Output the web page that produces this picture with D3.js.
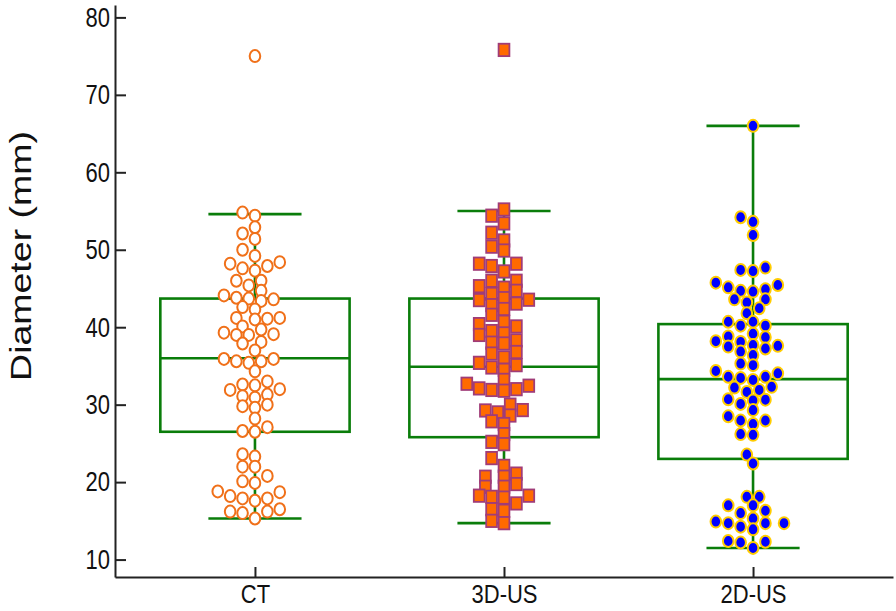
<!DOCTYPE html>
<html>
<head>
<meta charset="utf-8">
<script src="https://cdn.jsdelivr.net/npm/d3@7"></script>
<style>
  html, body { margin: 0; padding: 0; background: #fff; }
  svg { display: block; }
</style>
</head>
<body>
<svg id="chart" width="896" height="611"></svg>
<script>
// ---------------- data ----------------
const categories = ["CT", "3D-US", "2D-US"];
const yTicks = [10, 20, 30, 40, 50, 60, 70, 80];
const yLabel = "Diameter (mm)";

const ctValues = [75.0, 54.8, 54.4, 52.9, 52.1, 51.4, 50.0, 49.2, 48.4, 48.2, 47.9, 47.6, 47.3,
  46.0, 46.0, 45.4, 44.7, 44.1, 43.8, 43.7, 43.6, 43.4, 42.6, 42.3, 41.2, 41.2, 41.1, 41.0,
  40.1, 39.7, 39.0, 39.0, 39.1, 39.3, 38.1, 37.9, 37.0, 35.4, 35.6, 35.6, 35.9, 35.9, 34.3,
  33.0, 31.9, 32.0, 32.5, 32.6, 30.9, 31.1, 31.3, 29.6, 29.8, 30.0, 28.2, 26.5, 26.6, 27.1,
  23.3, 23.6, 22.0, 22.0, 20.8, 19.9, 20.1, 18.7, 18.8, 17.6, 17.9, 17.9, 18.2, 16.0, 16.5,
  16.2, 16.2, 15.3];

const us3dValues = [75.8, 55.2, 54.4, 53.4, 52.2, 51.2, 50.4, 49.9, 48.2, 48.2, 47.9, 47.2,
  46.0, 46.0, 45.1, 45.3, 44.7, 44.3, 42.85, 43.05, 43.5, 43.55, 43.75, 42.35, 41.6, 40.1,
  40.4, 40.7, 39.0, 39.2, 39.5, 37.9, 38.0, 38.3, 36.6, 36.8, 36.1, 34.5, 34.8, 35.1, 35.4,
  33.2, 31.8, 31.9, 32.0, 32.1, 32.45, 32.7, 30.0, 28.6, 29.0, 29.25, 29.3, 27.5, 27.85,
  26.2, 24.9, 25.2, 23.1, 22.1, 20.7, 20.7, 21.1, 19.4, 19.4, 19.75, 17.25, 18.0, 18.1,
  18.25, 18.25, 16.3, 16.5, 14.7, 15.0];

const us2dValues = [66.0, 54.2, 53.6, 51.9, 47.25, 47.4, 47.7, 45.75, 44.6, 44.7, 44.9, 45.15,
  45.45, 43.2, 43.6, 43.6, 42.45, 41.8, 40.2, 40.2, 40.7, 40.7, 38.7, 38.8, 39.15, 37.5, 37.6,
  37.7, 38.1, 38.2, 36.4, 36.85, 37.25, 35.1, 35.3, 34.35, 34.05, 33.2, 33.45, 33.6, 33.6,
  31.65, 31.9, 32.2, 32.3, 30.1, 30.55, 30.65, 30.7, 29.3, 28.5, 27.95, 27.95, 27.5, 26.1,
  26.2, 23.55, 22.4, 18.1, 18.1, 17.0, 17.0, 16.0, 16.3, 14.9, 15.3, 13.9, 14.25, 14.7,
  14.7, 14.7, 11.5, 12.2, 12.4, 12.3];

// box-plot statistics
const boxQ1 = [26.5, 25.8, 23.0];
const boxMedian = [36.0, 34.9, 33.3];
const boxQ3 = [43.7, 43.7, 40.4];
const whiskerLow = [15.3, 14.7, 11.5];
const whiskerHigh = [54.6, 55.0, 66.0];

// ---------------- layout ----------------
const svg = d3.select("#chart");
const plotLeft = 115, plotRight = 893, plotTop = 5, plotBottom = 577;
const yDomain = [7.75, 81.6];
const FONT = "Arial, 'Liberation Sans', Helvetica, sans-serif";

const x = d3.scalePoint().domain(categories).range([plotLeft, plotRight]).padding(0.562);
const y = d3.scaleLinear().domain(yDomain).range([plotBottom, plotTop]);

const boxHalf = x.step() * 0.38;
const capHalf = x.step() * 0.187;
const green = "#0a7d0a";

// ---------------- boxes ----------------
const boxes = svg.append("g").attr("class", "boxes")
  .selectAll("g").data(categories).join("g");

boxes.append("rect")
  .attr("x", d => x(d) - boxHalf)
  .attr("width", boxHalf * 2)
  .attr("y", (d, i) => y(boxQ3[i]))
  .attr("height", (d, i) => y(boxQ1[i]) - y(boxQ3[i]))
  .attr("fill", "none").attr("stroke", green).attr("stroke-width", 2.6);

boxes.append("line")
  .attr("x1", d => x(d) - boxHalf).attr("x2", d => x(d) + boxHalf)
  .attr("y1", (d, i) => y(boxMedian[i])).attr("y2", (d, i) => y(boxMedian[i]))
  .attr("stroke", green).attr("stroke-width", 2.6);

boxes.append("line")
  .attr("x1", d => x(d)).attr("x2", d => x(d))
  .attr("y1", (d, i) => y(boxQ3[i])).attr("y2", (d, i) => y(whiskerHigh[i]))
  .attr("stroke", green).attr("stroke-width", 2.6);
boxes.append("line")
  .attr("x1", d => x(d)).attr("x2", d => x(d))
  .attr("y1", (d, i) => y(boxQ1[i])).attr("y2", (d, i) => y(whiskerLow[i]))
  .attr("stroke", green).attr("stroke-width", 2.6);
boxes.append("line")
  .attr("x1", d => x(d) - capHalf).attr("x2", d => x(d) + capHalf)
  .attr("y1", (d, i) => y(whiskerHigh[i])).attr("y2", (d, i) => y(whiskerHigh[i]))
  .attr("stroke", green).attr("stroke-width", 2.6);
boxes.append("line")
  .attr("x1", d => x(d) - capHalf).attr("x2", d => x(d) + capHalf)
  .attr("y1", (d, i) => y(whiskerLow[i])).attr("y2", (d, i) => y(whiskerLow[i]))
  .attr("stroke", green).attr("stroke-width", 2.6);

// ---------------- swarm layout ----------------
function swarm(values, cx, w, h, step) {
  const order = values.map((v, i) => i).sort((a, b) => values[a] - values[b]);
  const placed = [];
  const out = new Array(values.length);
  for (const i of order) {
    const py = y(values[i]);
    for (let k = 0; k < 60; k++) {
      const off = (k % 2 === 1 ? -1 : 1) * Math.ceil(k / 2) * step;
      const px = cx + off;
      const ok = placed.every(p => ((p.x - px) / w) ** 2 + ((p.y - py) / h) ** 2 >= 1);
      if (ok) { placed.push({ x: px, y: py }); out[i] = { v: values[i], x: px, y: py }; break; }
    }
  }
  return out;
}

const MW = 12.4, MH = 9.5, STEP = 6.2;

// CT: open orange circles
const ctPts = swarm(ctValues, x("CT"), MW, MH, STEP);
svg.append("g").selectAll("ellipse").data(ctPts).join("ellipse")
  .attr("cx", d => d.x).attr("cy", d => d.y)
  .attr("rx", 5.3).attr("ry", 6.0)
  .attr("fill", "#fff").attr("stroke", "#f07019").attr("stroke-width", 2);

// 3D-US: orange squares with purple edge
const us3Pts = swarm(us3dValues, x("3D-US"), MW, MH, STEP);
svg.append("g").selectAll("rect").data(us3Pts).join("rect")
  .attr("x", d => d.x - 5.4).attr("y", d => d.y - 6.2)
  .attr("width", 10.8).attr("height", 12.4)
  .attr("fill", "#ff6a00").attr("stroke", "#a03c78").attr("stroke-width", 1.8);

// 2D-US: blue circles with gold edge
const us2Pts = swarm(us2dValues, x("2D-US"), MW, MH, STEP);
svg.append("g").selectAll("ellipse").data(us2Pts).join("ellipse")
  .attr("cx", d => d.x).attr("cy", d => d.y)
  .attr("rx", 5.3).attr("ry", 6.0)
  .attr("fill", "#0000ff").attr("stroke", "#ffcc00").attr("stroke-width", 2);

// ---------------- axes ----------------
const yAxis = svg.append("g")
  .attr("transform", `translate(${plotLeft},0)`)
  .call(d3.axisLeft(y).tickValues(yTicks).tickSizeInner(-11).tickSizeOuter(0).tickPadding(5));
const xAxis = svg.append("g")
  .attr("transform", `translate(0,${plotBottom})`)
  .call(d3.axisBottom(x).tickSizeInner(-10).tickSizeOuter(0).tickPadding(7));

[yAxis, xAxis].forEach(a => {
  a.select(".domain").attr("stroke", "#222").attr("stroke-width", 2);
  a.selectAll(".tick line").attr("stroke", "#222").attr("stroke-width", 2);
  a.selectAll(".tick text")
    .attr("fill", "#111")
    .style("font-family", FONT)
    .style("font-size", "22px");
});
yAxis.selectAll(".tick text").attr("transform", "scale(1,1.25)");
xAxis.selectAll(".tick text").attr("transform", "scale(1,1.15)");

svg.append("text")
  .attr("transform", "translate(31,256) rotate(-90) scale(1.25,1)")
  .attr("text-anchor", "middle")
  .style("font-family", FONT)
  .style("font-size", "30px")
  .attr("fill", "#111")
  .text(yLabel);
</script>
</body>
</html>
